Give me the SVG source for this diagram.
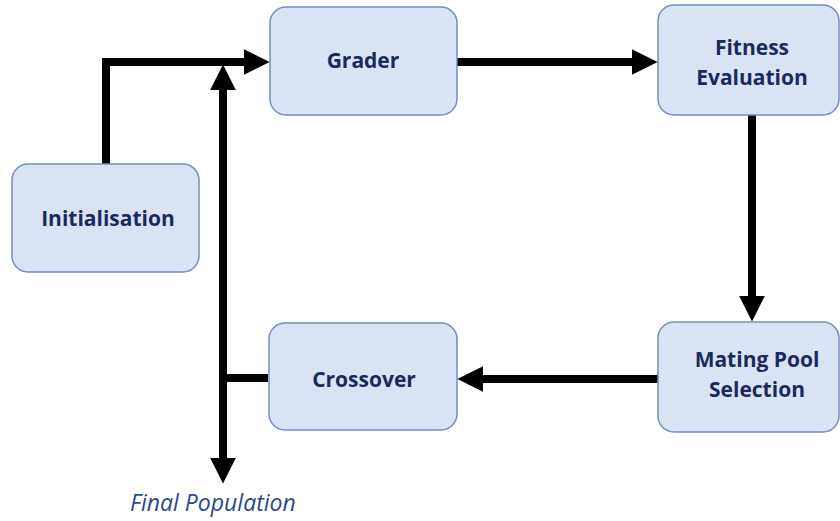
<svg xmlns="http://www.w3.org/2000/svg" width="840" height="521" viewBox="0 0 840 521">
<defs>
<style>
.box{fill:#dae3f3;stroke:#6f8fbf;stroke-width:1.5}
.lbl{font-family:"Open Sans",Lato,sans-serif;font-weight:bold;font-size:21px;fill:#1a2a5e;text-anchor:middle}
.con{stroke:#000;stroke-width:8;fill:none}
.fp{font-family:"Open Sans",Lato,sans-serif;font-style:italic;font-size:23px;fill:#2a4a8a}
</style>
<marker id="ah" viewBox="0 0 10 10" refX="0" refY="5" markerWidth="3.2" markerHeight="3.2" markerUnits="strokeWidth" orient="auto">
<path d="M0,0 L10,5 L0,10 Z" fill="#000"/>
</marker>
</defs>
<rect width="840" height="521" fill="#fff"/>
<g id="connectors">
<path class="con" d="M106,164 V62 H244" marker-end="url(#ah)"/>
<path class="con" d="M457,62 H632" marker-end="url(#ah)"/>
<path class="con" d="M752,115 V296" marker-end="url(#ah)"/>
<path class="con" d="M658,379 H483" marker-end="url(#ah)"/>
<path class="con" d="M268,378 H223"/>
<path class="con" d="M223,382 V90" marker-end="url(#ah)"/>
<path class="con" d="M223,374 V458" marker-end="url(#ah)"/>
</g>
<g id="initialisation">
<rect class="box" x="12" y="164" width="187" height="108" rx="16"/>
<text class="lbl" x="108" y="226">Initialisation</text>
</g>
<g id="grader">
<rect class="box" x="270" y="7" width="187" height="108" rx="16"/>
<text class="lbl" x="363" y="68">Grader</text>
</g>
<g id="fitness">
<rect class="box" x="658" y="5" width="181" height="110" rx="16"/>
<text class="lbl" x="752" y="55">Fitness</text>
<text class="lbl" x="752" y="85">Evaluation</text>
</g>
<g id="mating">
<rect class="box" x="658" y="322" width="181" height="110" rx="16"/>
<text class="lbl" x="757" y="367">Mating Pool</text>
<text class="lbl" x="757" y="397">Selection</text>
</g>
<g id="crossover">
<rect class="box" x="269" y="323" width="188" height="107" rx="16"/>
<text class="lbl" x="364" y="387">Crossover</text>
</g>
<text class="fp" x="130" y="511">Final Population</text>
</svg>
